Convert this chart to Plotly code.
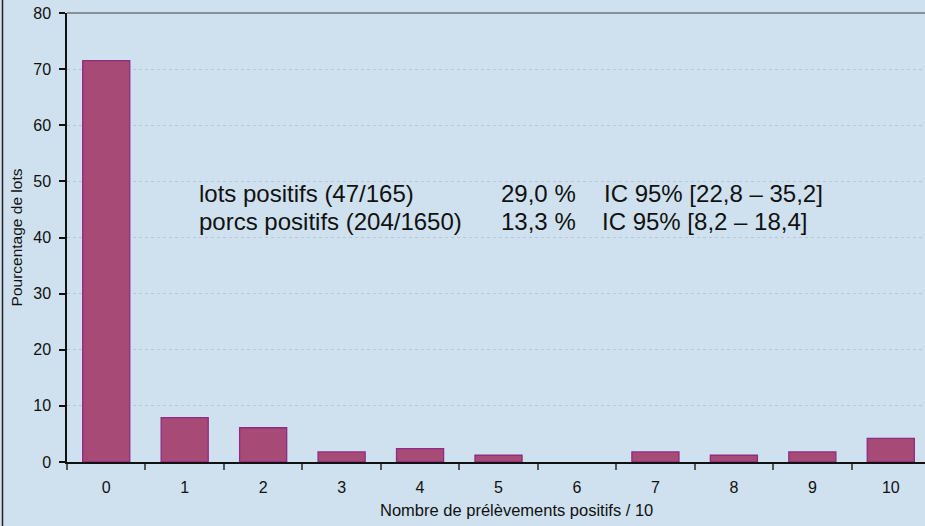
import plotly.graph_objects as go

categories = ["0", "1", "2", "3", "4", "5", "6", "7", "8", "9", "10"]
pourcentage_lots = [71.5, 7.9, 6.1, 1.8, 2.4, 1.2, 0.0, 1.8, 1.2, 1.8, 4.2]
y_ticks = [0, 10, 20, 30, 40, 50, 60, 70, 80]

stats_labels = ["lots positifs (47/165)", "porcs positifs (204/1650)"]
stats_pct = ["29,0 %", "13,3 %"]
stats_ic = ["IC 95% [22,8 – 35,2]", "IC 95% [8,2 – 18,4]"]
x_title = "Nombre de prélèvements positifs / 10"

BG = "#cfe1ee"
W, H = 925, 526
L, T, B = 67, 13, 64
PW = 858
PH = H - T - B

def px_x(px):
    return (px - L) / PW

def px_y(py):
    return (H - B - py) / PH

fig = go.Figure()
fig.add_trace(go.Bar(
    x=categories, y=pourcentage_lots, width=0.6,
    marker=dict(color="#a84a76",
                line=dict(color="#8d2c84", width=[0 if v == 0 else 1.3 for v in pourcentage_lots])),
))

fig.update_layout(
    width=W, height=H,
    margin=dict(l=L, r=0, t=T, b=B, autoexpand=False),
    paper_bgcolor=BG, plot_bgcolor=BG,
    showlegend=False,
    font=dict(family="Liberation Sans, Arial, sans-serif", color="#111", size=16),
    bargap=0.4,
)
fig.update_xaxes(
    type="category", range=[-0.5, 10.5 - 5 / 78],
    showline=True, linecolor="#111", linewidth=1.5,
    ticks="outside", tickson="boundaries", ticklen=6, tickcolor="#555", tickwidth=1.5,
    showgrid=False,
    tickfont=dict(size=16), ticklabelstandoff=10,
)
fig.update_yaxes(
    range=[0, 80], tickvals=y_ticks,
    showline=True, linecolor="#111", linewidth=1.5,
    ticks="outside", ticklen=6, tickcolor="#111", tickwidth=1.5,
    showgrid=True, gridcolor="#b8c9d6", griddash="dot", gridwidth=1,
    zeroline=False,
    tickfont=dict(size=16), ticklabelstandoff=5,
    title=dict(text="Pourcentage de lots", font=dict(size=15.5), standoff=7),
)

# x axis title placed as in the reference
fig.add_annotation(x=px_x(516), y=px_y(510), xref="paper", yref="paper", text=x_title,
                   showarrow=False, xanchor="center", yanchor="middle", font=dict(size=16.5, color="#111"))

# top border of the plot area (gray) and left frame line
fig.add_shape(type="line", xref="paper", yref="paper", x0=0, x1=1.05, y0=1, y1=1,
              line=dict(color="#8a9298", width=2))
fig.add_shape(type="line", xref="paper", yref="paper", x0=px_x(2.5), x1=px_x(2.5),
              y0=px_y(0), y1=px_y(526), line=dict(color="#222", width=1.5))

rows_y = [194, 222]
ic_x = [602, 600]
for i in range(2):
    yy = px_y(rows_y[i])
    fig.add_annotation(x=px_x(197), y=yy, xref="paper", yref="paper", text=stats_labels[i],
                       showarrow=False, xanchor="left", yanchor="middle", font=dict(size=24, color="#111"))
    fig.add_annotation(x=px_x(499), y=yy, xref="paper", yref="paper", text=stats_pct[i],
                       showarrow=False, xanchor="left", yanchor="middle", font=dict(size=24, color="#111"))
    fig.add_annotation(x=px_x(ic_x[i]), y=yy, xref="paper", yref="paper", text=stats_ic[i],
                       showarrow=False, xanchor="left", yanchor="middle", font=dict(size=24, color="#111"))

fig.write_html("out.html", config={"displayModeBar": False},
               post_script="document.body.style.margin='0';")
